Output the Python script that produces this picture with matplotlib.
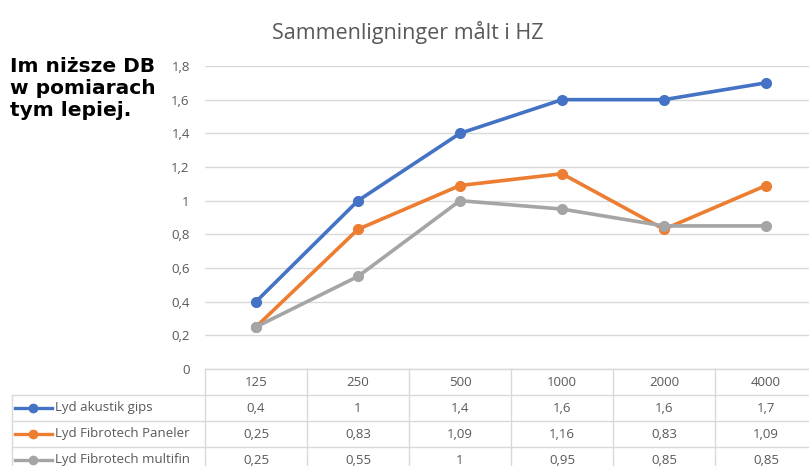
import matplotlib.pyplot as plt
import matplotlib.transforms as mtransforms

categories = ['125', '250', '500', '1000', '2000', '4000']
series_names = ['Lyd akustik gips', 'Lyd Fibrotech Paneler', 'Lyd Fibrotech multifin']
gips = [0.4, 1, 1.4, 1.6, 1.6, 1.7]
paneler = [0.25, 0.83, 1.09, 1.16, 0.83, 1.09]
multifin = [0.25, 0.55, 1, 0.95, 0.85, 0.85]
colors = ['#4472C4', '#ED7D31', '#A5A5A5']
yticks = [0, 0.2, 0.4, 0.6, 0.8, 1.0, 1.2, 1.4, 1.6, 1.8]

W, H = 809, 466
grid_c = '#D9D9D9'
text_c = '#595959'


def fmt(v):
    return ('%g' % v).replace('.', ',')


fig = plt.figure(figsize=(W / 100, H / 100), dpi=100)

# pixel overlay for table/text layout
pix = fig.add_axes([0, 0, 1, 1])
pix.set_xlim(0, W)
pix.set_ylim(H, 0)
pix.axis('off')

ax = fig.add_axes([205 / W, 1 - 369 / H, (817 - 205) / W, (369 - 66) / H])
ax.set_xlim(-0.5, len(categories) - 0.5)
ax.set_ylim(0, 1.8)
for s in ax.spines.values():
    s.set_visible(False)
ax.set_yticks(yticks)
ax.set_yticklabels([fmt(v) for v in yticks], color=text_c, fontsize=9.5,
                   family='Open Sans')
ax.tick_params(axis='y', length=0, pad=11)
ax.set_xticks([])
ax.grid(axis='y', color=grid_c, lw=1)
ax.set_axisbelow(True)
ax.patch.set_alpha(0)

xs = range(len(categories))
all_series = [gips, paneler, multifin]
for vals, c, name in zip(all_series, colors, series_names):
    ax.plot(xs, vals, color=c, lw=2.6, marker='o', ms=7, label=name,
            clip_on=False, zorder=3)

fig.text(408 / W, 1 - 33 / H, 'Sammenligninger målt i HZ', ha='center',
         va='center', fontsize=15.5, color=text_c, family='Open Sans')

pix.text(10, 57, 'Im niższe DB\nw pomiarach\ntym lepiej.', ha='left',
         va='top', fontsize=14.5, fontweight='bold', color='black',
         family='DejaVu Sans', linespacing=1.2)

# data table
bt = mtransforms.blended_transform_factory(ax.transData, pix.transData)
n = len(categories)
row_top = 369
row_h = 26
for i in range(n + 1):
    pix.plot([i - 0.5, i - 0.5], [row_top, H + 5], color=grid_c, lw=1,
             transform=bt, clip_on=False)
pix.plot([-0.5, n - 0.5], [row_top, row_top], color=grid_c, lw=1,
         transform=bt)
for r in range(1, 4):
    y = row_top + r * row_h
    pix.plot([12, 205], [y, y], color=grid_c, lw=1)
    pix.plot([-0.5, n - 0.5], [y, y], color=grid_c, lw=1, transform=bt)
pix.plot([12, 12], [row_top + row_h, H + 5], color=grid_c, lw=1)

for i, cat in enumerate(categories):
    pix.text(i, row_top + row_h / 2, cat, ha='center', va='center',
             fontsize=9.5, color=text_c, family='Open Sans', transform=bt)
for r, (vals, c, name) in enumerate(zip(all_series, colors, series_names)):
    yc = row_top + (r + 1.5) * row_h
    pix.plot([15, 52], [yc, yc], color=c, lw=2.4)
    pix.plot([33], [yc], color=c, marker='o', ms=6)
    pix.text(55, yc, name, ha='left', va='center', fontsize=9.5,
             color=text_c, family='Open Sans')
    for i, v in enumerate(vals):
        pix.text(i, yc, fmt(v), ha='center', va='center', fontsize=9.5,
                 color=text_c, family='Open Sans', transform=bt)

fig.savefig('out.png', dpi=100)
